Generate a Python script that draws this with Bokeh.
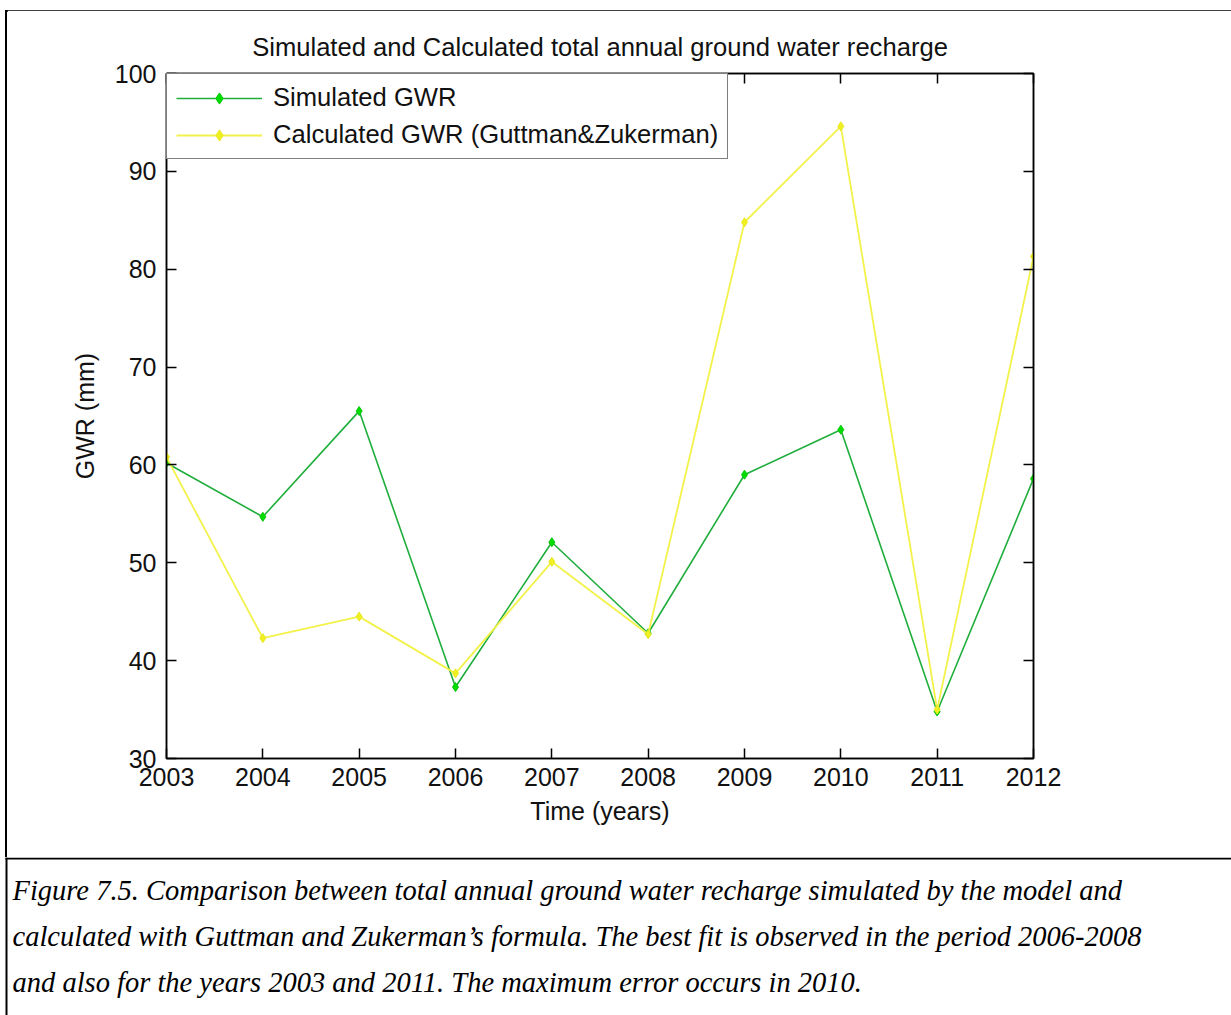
from bokeh.plotting import figure
from bokeh.layouts import column, row
from bokeh.models import (Range1d, FixedTicker, LinearAxis, Legend, LegendItem, Title, Div)
from bokeh.core.properties import value
from bokeh.embed import file_html
from bokeh.resources import INLINE

# Annual ground water recharge (mm), 2003-2012
years = [2003, 2004, 2005, 2006, 2007, 2008, 2009, 2010, 2011, 2012]
simulated_gwr = [60.2, 54.7, 65.5, 37.3, 52.1, 42.8, 59.0, 63.6, 34.8, 58.6]
calculated_gwr = [60.8, 42.3, 44.5, 38.7, 50.1, 42.7, 84.8, 94.6, 35.0, 81.3]
y_ticks = [30, 40, 50, 60, 70, 80, 90, 100]

title_text = "Simulated and Calculated total annual ground water recharge"
caption_lines = [
    "Figure 7.5. Comparison between total annual ground water recharge simulated by the model and",
    "calculated with Guttman and Zukerman\u2019s formula. The best fit is observed in the period 2006-2008",
    "and also for the years 2003 and 2011. The maximum error occurs in 2010.",
]

W, H = 1231, 1015
TOP_H = 10          # band holding the top rule of the figure box
LEFT_W = 7          # band holding the left rule
CAP_H = 158         # caption block under the chart
CH_W, CH_H = W - LEFT_W, H - TOP_H - CAP_H

SANS = "Liberation Sans"
SERIF = "Liberation Serif"
FS = "25px"
FS_BIG = "25.6px"
INK = "#111111"

# rules of the figure box
top_rule = Div(width=W, height=TOP_H, margin=0,
               text='<div style="margin:8px 0 0 5px;width:%dpx;height:2px;'
                    'background:#000"></div>' % (W - 5))
left_rule = Div(width=LEFT_W, height=CH_H, margin=0,
                text='<div style="margin:0 0 0 5px;width:2px;height:%dpx;'
                     'background:#000"></div>' % CH_H)

# ---- chart ----
FL, FR, FT, FB = 166 - LEFT_W, W - 1033, 73 - TOP_H, (H - CAP_H) - 758

p = figure(width=CH_W, height=CH_H, output_backend="svg", toolbar_location=None,
           x_range=Range1d(2003, 2012), y_range=Range1d(30, 100),
           min_border_left=FL, min_border_right=FR,
           min_border_top=FT, min_border_bottom=FB, margin=0)
p.background_fill_color = "white"
p.border_fill_color = "white"
p.outline_line_color = "black"
p.outline_line_width = 1.5
p.xgrid.visible = False
p.ygrid.visible = False

for ax, ticks in ((p.xaxis[0], years), (p.yaxis[0], y_ticks)):
    ax.ticker = FixedTicker(ticks=ticks)
    ax.major_tick_in = 10
    ax.major_tick_out = 0
    ax.minor_tick_line_color = None
    ax.axis_line_width = 1.5
    ax.major_tick_line_width = 1.5
    ax.major_label_text_font = SANS
    ax.major_label_text_font_size = FS
    ax.major_label_text_color = INK
    ax.axis_label_text_font = SANS
    ax.axis_label_text_font_size = FS
    ax.axis_label_text_font_style = "normal"
    ax.axis_label_text_color = INK

p.xaxis.axis_label = "Time (years)"
p.yaxis.axis_label = "GWR (mm)"
p.xaxis.major_label_standoff = 9
p.yaxis.major_label_standoff = 10
p.xaxis.axis_label_standoff = 8
p.yaxis.axis_label_standoff = 13

# mirrored tick marks on the top and right edges
for side, ticks in (("above", years), ("right", y_ticks)):
    a = LinearAxis(ticker=FixedTicker(ticks=ticks), major_tick_in=10, major_tick_out=0,
                   minor_tick_line_color=None, major_label_text_font_size="1px",
                   major_label_standoff=0, axis_line_width=1.5, major_tick_line_width=1.5)
    a.major_label_text_color = None
    p.add_layout(a, side)

p.add_layout(Title(text=title_text, align="center", text_font=SANS, text_font_size=FS_BIG,
                   text_font_style="normal", text_color=INK, standoff=25), "above")

g_line = p.line(years, simulated_gwr, line_color="#1fae3c", line_width=1.6)
g_mark = p.scatter(years, simulated_gwr, marker="diamond", size=9,
                   fill_color="#00dd00", line_color="#00c800")
y_line = p.line(years, calculated_gwr, line_color="#f2f24a", line_width=1.8)
y_mark = p.scatter(years, calculated_gwr, marker="diamond", size=9,
                   fill_color="#f0f020", line_color="#e8e820")

legend = Legend(items=[
    LegendItem(label="Simulated GWR", renderers=[g_line, g_mark]),
    LegendItem(label="Calculated GWR (Guttman&Zukerman)", renderers=[y_line, y_mark]),
], location="top_left")
legend.margin = 0
legend.padding = 9
legend.spacing = 8
legend.glyph_width = 86
legend.glyph_height = 28
legend.label_height = 28
legend.label_standoff = 11
legend.label_text_font = SANS
legend.label_text_font_size = FS_BIG
legend.label_text_color = INK
legend.border_line_color = "black"
legend.border_line_width = 1.5
legend.background_fill_alpha = 1.0
p.add_layout(legend)

# ---- caption block (pixel ranges, y pointing down) ----
cap = figure(width=W, height=CAP_H, output_backend="svg", toolbar_location=None,
             x_range=Range1d(0, W), y_range=Range1d(CAP_H, 0), margin=0,
             min_border=0, min_border_left=0, min_border_right=0,
             min_border_top=0, min_border_bottom=0)
cap.axis.visible = False
cap.grid.visible = False
cap.outline_line_color = None
cap.segment(x0=[5], y0=[1], x1=[W], y1=[1], line_color="black", line_width=2)
cap.segment(x0=[6], y0=[0], x1=[6], y1=[CAP_H], line_color="black", line_width=2)
cap.text(x=[12, 12, 12], y=[33, 79, 125], text=caption_lines,
         text_font=value(SERIF), text_font_size="28.5px", text_font_style="italic",
         text_align="left", text_baseline="middle", text_color="black")

layout = column(top_rule, row(left_rule, p, margin=0), cap, margin=0)
open("out.html", "w").write(file_html(layout, INLINE))
